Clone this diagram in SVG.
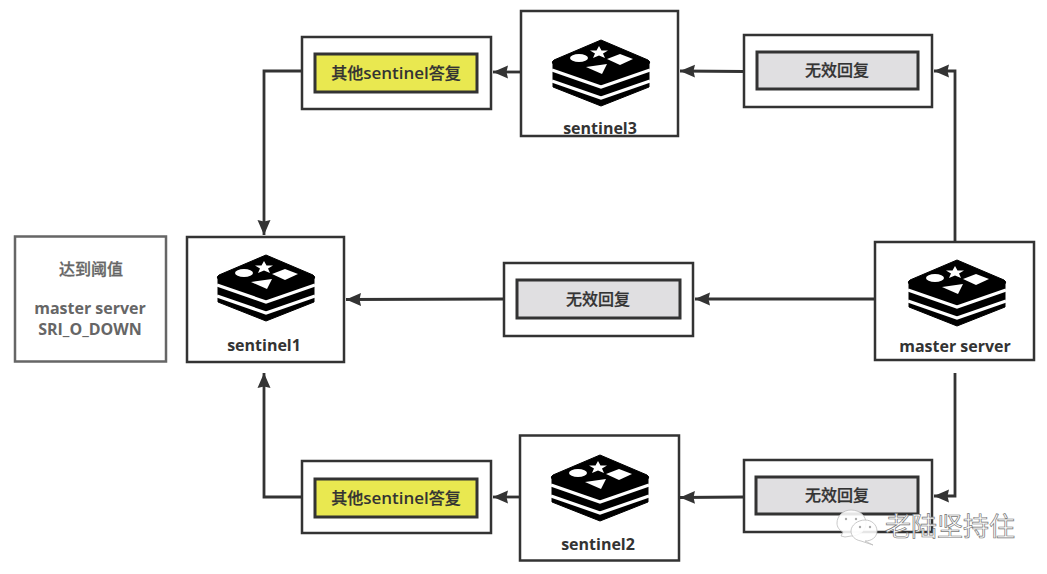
<svg xmlns="http://www.w3.org/2000/svg" xmlns:xlink="http://www.w3.org/1999/xlink" width="1047" height="574" viewBox="0 0 1047 574">
<style>
text{font-family:"Open Sans","Noto Sans CJK SC",sans-serif;text-anchor:middle;fill:#333}
.box{fill:#fff;stroke:#333;stroke-width:2.5}
.y{fill:#e9e850;stroke:#333;stroke-width:3}
.g{fill:#e0dfe1;stroke:#333;stroke-width:3}
.lbl{font-size:16px}
.c{font-family:"Noto Sans CJK SC",sans-serif;font-size:16px;font-weight:500;stroke:#333;stroke-width:.25}
.l{font-size:17px;font-weight:600}
.name{font-size:16px;font-weight:700}
.cjk{font-family:"Noto Sans CJK SC","Open Sans",sans-serif;font-size:16px;font-weight:500;stroke:#333;stroke-width:.25}
.note{fill:#666;font-size:16px;font-weight:700}
.notec{fill:#666;font-family:"Noto Sans CJK SC",sans-serif;font-size:16px;font-weight:500;stroke:#666;stroke-width:.3}
.conn{fill:none;stroke:#333;stroke-width:2.800}
.wm{font-family:"Noto Sans CJK SC",sans-serif;font-size:26px;fill:#fff;stroke:#777;stroke-width:.7;text-anchor:start}
.b{fill:#fff;fill-opacity:.88;stroke:#bbb;stroke-width:.8}
.e{fill:#aaa}
</style>
<defs>
<marker id="arr" markerUnits="userSpaceOnUse" markerWidth="16" markerHeight="14" refX="15" refY="7" orient="auto"><path d="M0,.5L15,7L0,13.500L1.500,7Z" fill="#333"/></marker>
<g id="logo">
<path d="M0,0L47,20Q50,22 48,24V47L0,66L-48,47V24Q-50,22 -47,20Z" fill="#000" stroke="#000" stroke-linejoin="round"/>
<path d="M-49,30L0,47L49,30M-49,41L0,58L49,41" fill="none" stroke="#fff" stroke-width="3.2"/>
<path d="M-2,6L0.500,10.500L7,10.500L2,13.500L4,18L-2,15.500L-8,18L-6,13.500L-11,10.500L-4.500,10.500Z" fill="#fff"/>
<ellipse cx="-22" cy="18" rx="9" ry="4" fill="#fff"/>
<path d="M6,19L19,14L32,19L19,25Z" fill="#fff"/>
<path d="M-15,27L6,24L1,34Z" fill="#fff"/>
</g>
</defs>
<rect width="1047" height="574" fill="#fff"/>
<g id="connectors">
<path class="conn" d="M302,71H264V235" marker-end="url(#arr)"/>
<path class="conn" d="M302,497H264V373" marker-end="url(#arr)"/>
<path class="conn" d="M521,72H493" marker-end="url(#arr)"/>
<path class="conn" d="M521,497H493" marker-end="url(#arr)"/>
<path class="conn" d="M744,71.500L680,71" marker-end="url(#arr)"/>
<path class="conn" d="M744,497L680,497.500" marker-end="url(#arr)"/>
<path class="conn" d="M504,299L346,299.500" marker-end="url(#arr)"/>
<path class="conn" d="M875,299H695" marker-end="url(#arr)"/>
<path class="conn" d="M955,242V71H934" marker-end="url(#arr)"/>
<path class="conn" d="M955,373V496H934" marker-end="url(#arr)"/>
</g>
<g id="threshold">
<rect x="15" y="236.500" width="151" height="125" fill="#fff" stroke="#666" stroke-width="2.5"/>
<text class="notec" x="91" y="275">达到阈值</text>
<text class="note" x="90" y="314">master server</text>
<text class="note" x="90" y="335">SRI_O_DOWN</text>
</g>
<g id="sentinel1">
<rect class="box" x="187" y="237" width="157" height="125"/>
<use xlink:href="#logo" href="#logo" x="266" y="255"/>
<text class="name" x="264" y="351">sentinel1</text>
</g>
<g id="sentinel3">
<rect class="box" x="521" y="11" width="157" height="125"/>
<use xlink:href="#logo" href="#logo" x="601" y="40"/>
<text class="name" x="600" y="134">sentinel3</text>
</g>
<g id="sentinel2">
<rect class="box" x="520" y="435.500" width="159" height="125"/>
<use xlink:href="#logo" href="#logo" x="600" y="455"/>
<text class="name" x="598" y="550">sentinel2</text>
</g>
<g id="master">
<rect class="box" x="875" y="242" width="159" height="118"/>
<use xlink:href="#logo" href="#logo" x="957" y="260"/>
<text class="name" x="955" y="352">master server</text>
</g>
<g id="reply-top-left">
<rect class="box" x="302" y="37" width="189" height="72"/>
<rect class="y" x="315" y="54" width="162" height="38"/>
<text class="lbl" x="396" y="79"><tspan class="c">其他</tspan><tspan class="l">sentinel</tspan><tspan class="c">答复</tspan></text>
</g>
<g id="reply-bottom-left">
<rect class="box" x="302" y="461" width="189" height="72"/>
<rect class="y" x="315" y="479" width="162" height="38"/>
<text class="lbl" x="396" y="504"><tspan class="c">其他</tspan><tspan class="l">sentinel</tspan><tspan class="c">答复</tspan></text>
</g>
<g id="reply-middle">
<rect class="box" x="504" y="263" width="189" height="73"/>
<rect class="g" x="517" y="280" width="163" height="38"/>
<text class="cjk" x="598" y="305">无效回复</text>
</g>
<g id="reply-top-right">
<rect class="box" x="744" y="35" width="188" height="72"/>
<rect class="g" x="757" y="52" width="161" height="37"/>
<text class="cjk" x="837" y="76">无效回复</text>
</g>
<g id="reply-bottom-right">
<rect class="box" x="744" y="460" width="188" height="72"/>
<rect class="g" x="756" y="477" width="162" height="37"/>
<text class="cjk" x="837" y="501">无效回复</text>
</g>
<g id="watermark">
<path class="b" d="M851,510C860,510 866,516 866,523C866,531 859,536 851,536L845,537L841,536L843,532C839,530 837,527 837,523C837,516 843,510 851,510Z"/>
<circle class="e" cx="846" cy="519" r="1.200"/><circle class="e" cx="856" cy="519" r="1.200"/>
<path class="b" d="M865,520C872,520 877,525 877,531C877,537 872,541 865,541L873,545L861,541C855,540 851,536 851,531C851,525 858,520 865,520Z"/>
<circle class="e" cx="860" cy="527" r="1.200"/><circle class="e" cx="870" cy="527" r="1.200"/>
<text class="wm" x="885" y="536">老陆坚持住</text>
</g>
</svg>
